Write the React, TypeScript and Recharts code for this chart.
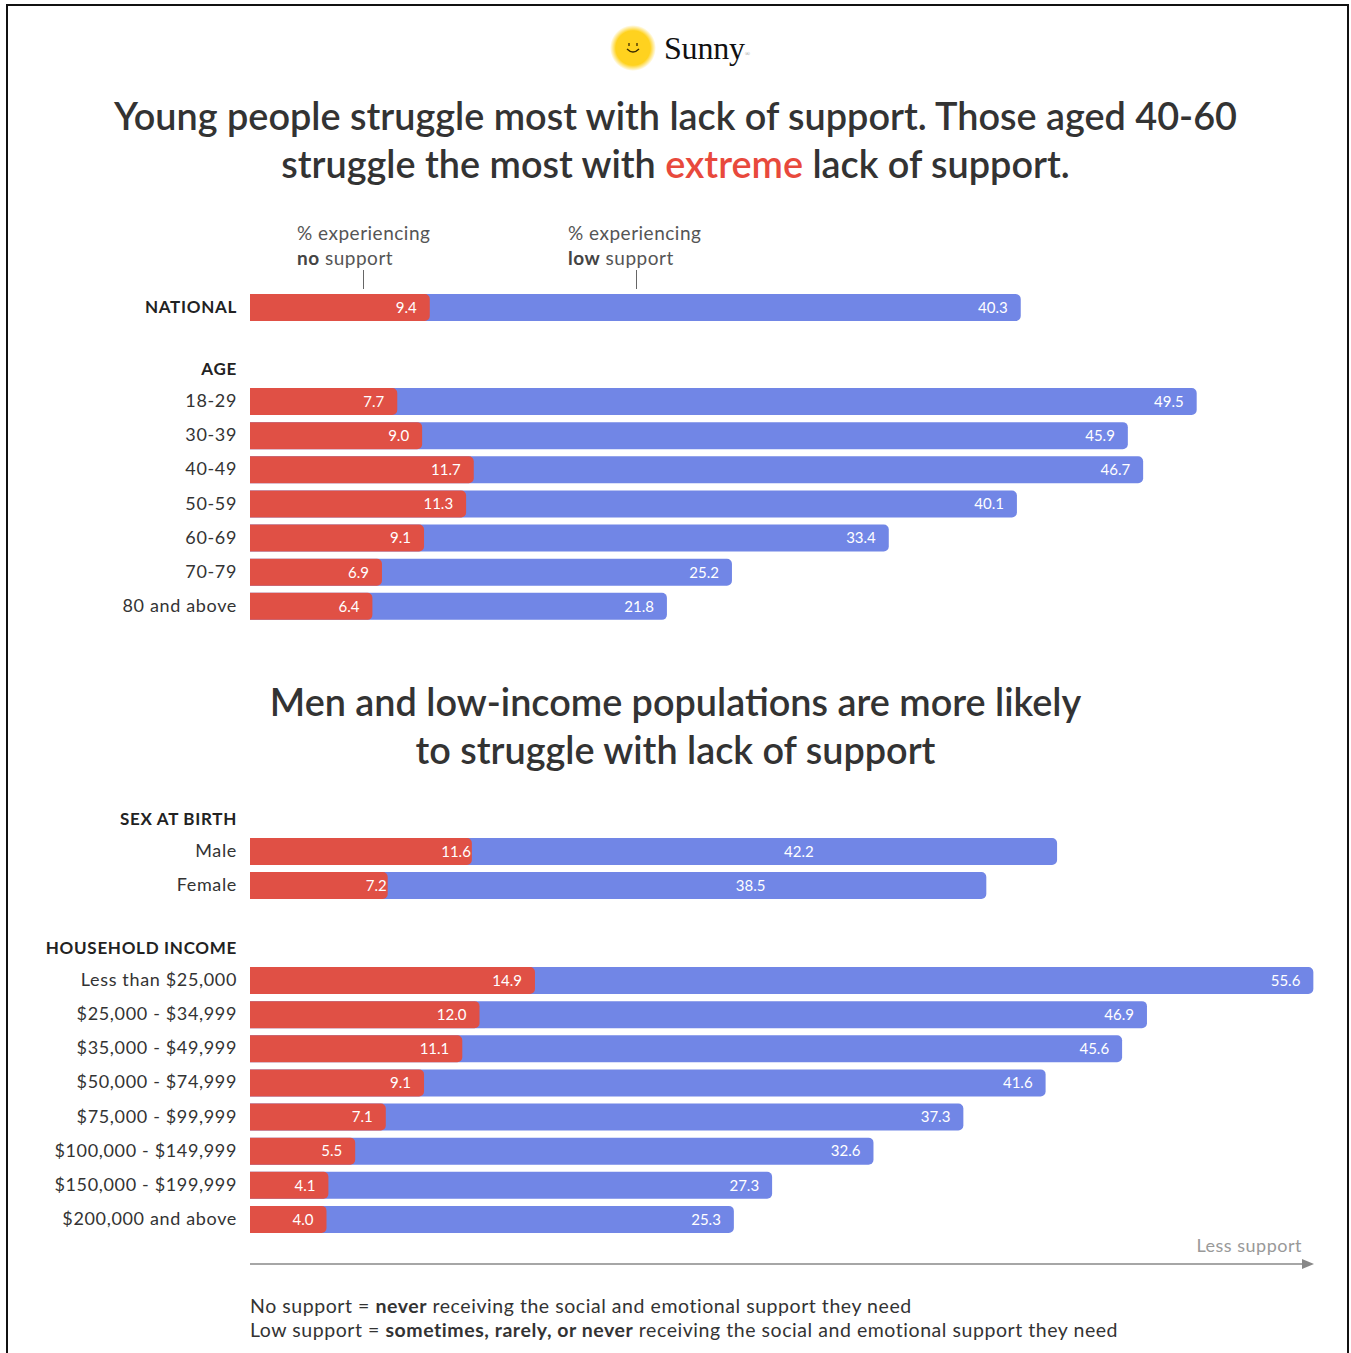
import { BarChart, Bar, XAxis, YAxis, LabelList } from 'recharts'

const nationalCats = ['NATIONAL']
const nationalNo = [9.4]
const nationalLow = [40.3]

const ageCats = ['18-29', '30-39', '40-49', '50-59', '60-69', '70-79', '80 and above']
const ageNo = [7.7, 9.0, 11.7, 11.3, 9.1, 6.9, 6.4]
const ageLow = [49.5, 45.9, 46.7, 40.1, 33.4, 25.2, 21.8]

const sexCats = ['Male', 'Female']
const sexNo = [11.6, 7.2]
const sexLow = [42.2, 38.5]

const incomeCats = [
  'Less than $25,000', '$25,000 - $34,999', '$35,000 - $49,999', '$50,000 - $74,999',
  '$75,000 - $99,999', '$100,000 - $149,999', '$150,000 - $199,999', '$200,000 and above',
]
const incomeNo = [14.9, 12.0, 11.1, 9.1, 7.1, 5.5, 4.1, 4.0]
const incomeLow = [55.6, 46.9, 45.6, 41.6, 37.3, 32.6, 27.3, 25.3]

const RED = '#E05045'
const BLUE = '#7186E6'
const TEXT = '#333333'
const FONT = 'Lato, "Open Sans", sans-serif'

const toRows = (cats: string[], no: number[], low: number[]) =>
  cats.map((c, i) => ({ cat: c, no: no[i], low: low[i] }))

const fmt1 = (v: any) => Number(v).toFixed(1)

function CatTick(props: any) {
  const { x, y, payload } = props
  const bold = payload.value === 'NATIONAL'
  return (
    <text x={x} y={y} dy={6} textAnchor="end" fill={bold ? '#222' : TEXT}
      fontSize={bold ? 17 : 18} fontWeight={bold ? 700 : 400} fontFamily={FONT}
      style={{ letterSpacing: bold ? 0.7 : 0.65 }}>
      {payload.value}
    </text>
  )
}

// sex-at-birth labels sit differently in the original
const sexRedLabel = (p: any) => (
  <text x={p.x + p.width - 1} y={p.y + p.height / 2} dy={5} textAnchor="end"
    fill="#fff" fontSize={15} fontFamily={FONT}>{fmt1(p.value)}</text>
)
const sexBlueLabel = (p: any) => (
  <text x={p.x + p.width * 0.68} y={p.y + p.height / 2} dy={5} textAnchor="middle"
    fill="#fff" fontSize={15} fontFamily={FONT}>{fmt1(p.value)}</text>
)

function Rows({ cats, no, low, top, height, sex }: {
  cats: string[], no: number[], low: number[], top: number, height: number, sex?: boolean
}) {
  const data = toRows(cats, no, low)
  return (
    <div style={{ position: 'absolute', left: 0, top }}>
      <BarChart width={1331} height={height} data={data} layout="vertical"
        margin={{ top: 0, right: 10, bottom: 0, left: 0 }} barGap={-27} barCategoryGap={0}>
        <XAxis type="number" domain={[0, 56]} hide />
        <YAxis type="category" dataKey="cat" width={250} axisLine={false} tickLine={false}
          tickSize={0} tickMargin={13} tick={<CatTick />} interval={0} />
        <Bar dataKey="low" fill={BLUE} barSize={27} radius={[0, 5, 5, 0]} isAnimationActive={false}>
          {sex
            ? <LabelList dataKey="low" content={sexBlueLabel} />
            : <LabelList dataKey="low" position="insideRight" offset={13} fill="#fff"
                fontSize={15} fontFamily={FONT} formatter={fmt1} />}
        </Bar>
        <Bar dataKey="no" fill={RED} barSize={27} radius={[0, 5, 5, 0]} isAnimationActive={false}>
          {sex
            ? <LabelList dataKey="no" content={sexRedLabel} />
            : <LabelList dataKey="no" position="insideRight" offset={13} fill="#fff"
                fontSize={15} fontFamily={FONT} formatter={fmt1} />}
        </Bar>
      </BarChart>
    </div>
  )
}

const abs = (left: number, top: number, extra: any = {}) =>
  ({ position: 'absolute' as const, left, top, ...extra })

function Header({ text, top }: { text: string, top: number }) {
  return (
    <div style={abs(0, top, { width: 237, textAlign: 'right', fontSize: 17, fontWeight: 700,
      color: '#222', fontFamily: FONT, lineHeight: '20px', letterSpacing: 0.7 })}>{text}</div>
  )
}

function Logo() {
  return (
    <div style={abs(610, 24, { display: 'flex', alignItems: 'center' })}>
      <svg width={48} height={48}>
        <defs>
          <radialGradient id="sun" cx="50%" cy="50%" r="50%">
            <stop offset="75%" stopColor="#FFD21F" />
            <stop offset="100%" stopColor="#FFD21F" stopOpacity={0} />
          </radialGradient>
        </defs>
        <circle cx={23} cy={24} r={23} fill="url(#sun)" />
        <line x1={19} y1={19} x2={19} y2={22} stroke="#3a2a00" strokeWidth={1.3} />
        <line x1={27} y1={19} x2={27} y2={22} stroke="#3a2a00" strokeWidth={1.3} />
        <path d="M17 25 Q23 31 29 25" fill="none" stroke="#3a2a00" strokeWidth={1.3} />
      </svg>
      <span style={{ fontFamily: '"Liberation Serif", serif', fontSize: 32, color: '#111',
        marginLeft: 6, letterSpacing: -0.2 }}>Sunny</span>
      <span style={{ fontSize: 7, color: '#999', marginTop: 12 }}>®</span>
    </div>
  )
}

const titleStyle = {
  width: 1351, textAlign: 'center' as const, fontFamily: FONT, fontWeight: 600,
  fontSize: 37.8, color: '#333', lineHeight: '48px',
}
const noteStyle = { fontFamily: FONT, fontSize: 19, color: '#555', lineHeight: '25px', letterSpacing: 0.5 }

export default function App() {
  return (
    <div style={abs(0, 0, { width: 1351, height: 1353, background: '#fff', overflow: 'hidden' })}>
      <div style={abs(6, 4, { width: 1339, height: 1360, border: '2px solid #111' })} />
      <Logo />
      <div style={abs(0, 92, titleStyle)}>
        Young people struggle most with lack of support. Those aged 40-60<br />
        struggle the most with <span style={{ color: '#E8493C' }}>extreme</span> lack of support.
      </div>

      <div style={abs(297, 220, noteStyle)}>% experiencing<br /><b style={{ color: '#444' }}>no</b> support</div>
      <div style={abs(568, 220, noteStyle)}>% experiencing<br /><b style={{ color: '#444' }}>low</b> support</div>
      <div style={abs(363, 270, { width: 1, height: 19, background: '#666' })} />
      <div style={abs(636, 270, { width: 1, height: 19, background: '#666' })} />

      <Rows cats={nationalCats} no={nationalNo} low={nationalLow} top={290} height={34} />
      <Header text="AGE" top={359} />
      <Rows cats={ageCats} no={ageNo} low={ageLow} top={384} height={239} />

      <div style={abs(0, 678, titleStyle)}>
        Men and low-income populations are more likely<br />to struggle with lack of support
      </div>

      <Header text="SEX AT BIRTH" top={809} />
      <Rows cats={sexCats} no={sexNo} low={sexLow} top={834} height={68} sex />
      <Header text="HOUSEHOLD INCOME" top={938} />
      <Rows cats={incomeCats} no={incomeNo} low={incomeLow} top={963} height={273} />

      <div style={abs(1100, 1234, { width: 202, textAlign: 'right', fontFamily: FONT,
        fontSize: 18, color: '#999', letterSpacing: 0.5 })}>Less support</div>
      <svg style={abs(248, 1256)} width={1070} height={16}>
        <line x1={2} y1={8} x2={1058} y2={8} stroke="#888" strokeWidth={1.5} />
        <path d="M1054 3 L1066 8 L1054 13 Z" fill="#888" />
      </svg>

      <div style={abs(250, 1294, { fontFamily: FONT, fontSize: 19.5, color: '#333', lineHeight: '24px',
        letterSpacing: 0.55 })}>
        No support = <b>never</b> receiving the social and emotional support they need<br />
        Low support = <b>sometimes, rarely, or never</b> receiving the social and emotional support they need
      </div>
    </div>
  )
}
